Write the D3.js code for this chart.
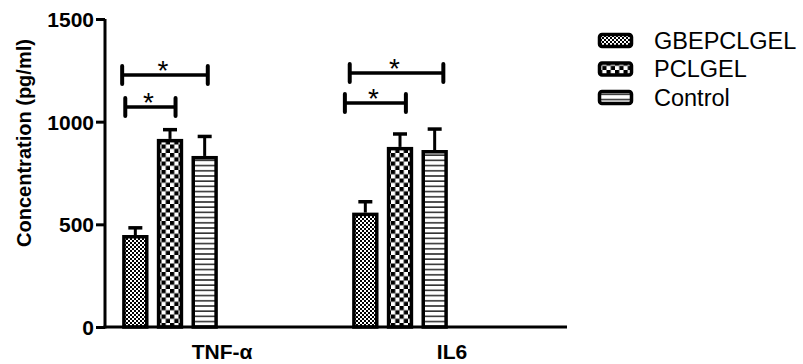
<!DOCTYPE html>
<html>
<head>
<meta charset="utf-8">
<script src="https://cdn.jsdelivr.net/npm/d3@7/dist/d3.min.js"></script>
<style>
  html, body { margin: 0; padding: 0; background: #fff; }
  svg { display: block; }
  text { font-family: "Liberation Sans", Arial, sans-serif; fill: #000; }
</style>
</head>
<body>
<svg id="chart" width="803" height="364"></svg>
<script>
// ---- data ----
const categories = ["TNF-\u03b1", "IL6"];
const seriesNames = ["GBEPCLGEL", "PCLGEL", "Control"];
const gbepclgelMean = [448, 557];
const pclgelMean = [916, 877];
const controlMean = [833, 862];
const gbepclgelErr = [35, 53];
const pclgelErr = [45, 63];
const controlErr = [95, 102];
const yTicks = [0, 500, 1000, 1500];
const yLabel = "Concentration (pg/ml)";
// significance brackets: category, start/end in bar-index units, level (pg/ml), label
const bracketCat = ["TNF-\u03b1", "TNF-\u03b1", "IL6", "IL6"];
const bracketFrom = [-0.38, -0.29, -0.45, -0.59];
const bracketTo = [2.09, 1.16, 2.25, 1.17];
const bracketLevel = [1227, 1071, 1237, 1091];
const bracketLabel = ["*", "*", "*", "*"];

const means = [gbepclgelMean, pclgelMean, controlMean];
const errs = [gbepclgelErr, pclgelErr, controlErr];
const patternIds = ["pFine", "pChecker", "pLines"];

const svg = d3.select("#chart");
const defs = svg.append("defs");

// fine checker
const p1 = defs.append("pattern").attr("id", "pFine").attr("patternUnits", "userSpaceOnUse")
  .attr("width", 4).attr("height", 4);
p1.append("rect").attr("width", 4).attr("height", 4).attr("fill", "#fff");
p1.append("rect").attr("width", 2).attr("height", 2).attr("fill", "#000");
p1.append("rect").attr("x", 2).attr("y", 2).attr("width", 2).attr("height", 2).attr("fill", "#000");
// coarse checker
const p2 = defs.append("pattern").attr("id", "pChecker").attr("patternUnits", "userSpaceOnUse")
  .attr("width", 8.5).attr("height", 8.5);
p2.append("rect").attr("width", 8.5).attr("height", 8.5).attr("fill", "#fff");
p2.append("rect").attr("width", 4.25).attr("height", 4.25).attr("fill", "#000");
p2.append("rect").attr("x", 4.25).attr("y", 4.25).attr("width", 4.25).attr("height", 4.25).attr("fill", "#000");
// horizontal lines
const p3 = defs.append("pattern").attr("id", "pLines").attr("patternUnits", "userSpaceOnUse")
  .attr("width", 8).attr("height", 5.2);
p3.append("rect").attr("width", 8).attr("height", 5.2).attr("fill", "#fff");
p3.append("rect").attr("y", 3.6).attr("width", 8).attr("height", 1.6).attr("fill", "#333");

// ---- scales ----
const y = d3.scaleLinear().domain([0, 1500]).range([327, 19]);
const x = d3.scaleBand().domain(categories).range([107, 567]);
const xs = d3.scaleBand().domain(seriesNames).range([11, 115]).paddingInner(0.24).paddingOuter(0.12);
const barIdx = d3.scaleLinear().domain([0, 1]).range([xs(seriesNames[0]) + xs.bandwidth() / 2, xs(seriesNames[1]) + xs.bandwidth() / 2]);

const sw = 3.5;

// ---- bars ----
const barData = [];
categories.forEach((c, ci) => {
  seriesNames.forEach((s, si) => {
    barData.push({ c, s, si, v: means[si][ci], e: errs[si][ci] });
  });
});

const g = svg.append("g");
// error bars
g.selectAll(".err").data(barData).enter().append("line")
  .attr("x1", d => x(d.c) + xs(d.s) + xs.bandwidth() / 2)
  .attr("x2", d => x(d.c) + xs(d.s) + xs.bandwidth() / 2)
  .attr("y1", d => y(d.v))
  .attr("y2", d => y(d.v + d.e))
  .attr("stroke", "#000").attr("stroke-width", 3);
g.selectAll(".cap").data(barData).enter().append("line")
  .attr("x1", d => x(d.c) + xs(d.s) + xs.bandwidth() / 2 - 7)
  .attr("x2", d => x(d.c) + xs(d.s) + xs.bandwidth() / 2 + 7)
  .attr("y1", d => y(d.v + d.e))
  .attr("y2", d => y(d.v + d.e))
  .attr("stroke", "#000").attr("stroke-width", 3.5);
g.selectAll(".bar").data(barData).enter().append("rect")
  .attr("x", d => x(d.c) + xs(d.s) + sw / 2)
  .attr("y", d => y(d.v) + sw / 2)
  .attr("width", xs.bandwidth() - sw)
  .attr("height", d => y(0) - y(d.v) - sw / 2)
  .attr("fill", d => `url(#${patternIds[d.si]})`)
  .attr("stroke", "#000").attr("stroke-width", sw);

// ---- axes ----
const yAxis = d3.axisLeft(y).tickValues(yTicks).tickFormat(d3.format("d"))
  .tickSize(9).tickSizeOuter(0).tickPadding(2);
const ya = svg.append("g").attr("transform", "translate(105,0)").call(yAxis);
ya.select(".domain").attr("stroke-width", 3).attr("d", `M0,${y(1500)}V${y(0) + 1.5}`);
ya.selectAll(".tick line").attr("stroke-width", 3);
ya.selectAll(".tick text").style("font-size", "21px").style("font-weight", "bold")
  .style("font-family", "Liberation Sans, Arial, sans-serif").attr("fill", "#000").attr("dy", "0.36em");

const xAxis = d3.axisBottom(x).tickSize(0).tickPadding(17);
const xa = svg.append("g").attr("transform", `translate(0,${y(0)})`).call(xAxis);
xa.select(".domain").attr("stroke-width", 3).attr("d", `M${105 - 1.5},0H${x.range()[1]}`);
xa.selectAll(".tick text").style("font-size", "21px").style("font-weight", "bold")
  .style("font-family", "Liberation Sans, Arial, sans-serif").attr("fill", "#000");

svg.append("text")
  .attr("transform", "translate(31,143) rotate(-90)")
  .attr("text-anchor", "middle")
  .style("font-size", "20px").style("font-weight", "bold")
  .text(yLabel);

// ---- significance brackets ----
const br = bracketCat.map((c, i) => ({
  x1: x(c) + barIdx(bracketFrom[i]),
  x2: x(c) + barIdx(bracketTo[i]),
  yy: y(bracketLevel[i]),
  label: bracketLabel[i]
}));
const bg = svg.append("g");
bg.selectAll(".bh").data(br).enter().append("line")
  .attr("x1", d => d.x1).attr("x2", d => d.x2).attr("y1", d => d.yy).attr("y2", d => d.yy)
  .attr("stroke", "#000").attr("stroke-width", 3.5);
bg.selectAll(".bl").data(br).enter().append("line")
  .attr("x1", d => d.x1).attr("x2", d => d.x1).attr("y1", d => d.yy - 9).attr("y2", d => d.yy + 9)
  .attr("stroke", "#000").attr("stroke-width", 4).attr("stroke-linecap", "round");
bg.selectAll(".br").data(br).enter().append("line")
  .attr("x1", d => d.x2).attr("x2", d => d.x2).attr("y1", d => d.yy - 9).attr("y2", d => d.yy + 9)
  .attr("stroke", "#000").attr("stroke-width", 4).attr("stroke-linecap", "round");
bg.selectAll(".bt").data(br).enter().append("text")
  .attr("x", d => (d.x1 + d.x2) / 2 - 2).attr("y", d => d.yy + 5)
  .attr("text-anchor", "middle").style("font-size", "28px")
  .text(d => d.label);

// ---- legend ----
const leg = svg.append("g").attr("transform", "translate(598,33)");
const li = leg.selectAll(".li").data(seriesNames).enter().append("g")
  .attr("transform", (d, i) => `translate(0,${i * 28.5})`);
li.append("rect").attr("x", 1.5).attr("y", 1.5).attr("width", 32).attr("height", 12)
  .attr("rx", 2.5).attr("fill", (d, i) => `url(#${patternIds[i]})`)
  .attr("stroke", "#000").attr("stroke-width", 3.5);
li.append("text").attr("x", 56).attr("y", 15.5)
  .style("font-size", "23.5px").text(d => d);
</script>
</body>
</html>
